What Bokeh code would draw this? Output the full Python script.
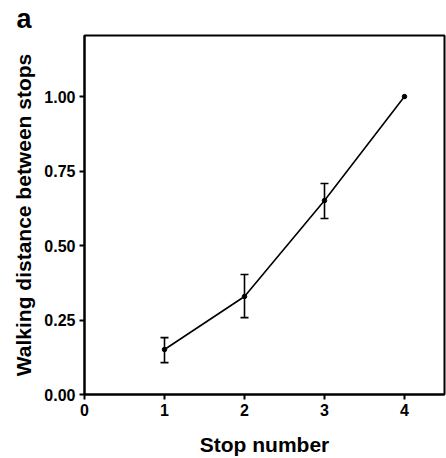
from bokeh.plotting import figure
from bokeh.models import ColumnDataSource, Whisker, TeeHead, FixedTicker, Range1d
from bokeh.embed import file_html
from bokeh.resources import INLINE

NAN = float("nan")
stops = [1, 2, 3, 4]
distance = [0.151, 0.329, 0.651, 1.0]
err_upper = [0.191, 0.403, 0.708, NAN]
err_lower = [0.107, 0.258, 0.591, NAN]
x_ticks = [0, 1, 2, 3, 4]
y_ticks = [0.0, 0.25, 0.5, 0.75, 1.0]
y_tick_labels = {0.0: "0.00", 0.25: "0.25", 0.5: "0.50", 0.75: "0.75", 1.0: "1.00"}

FONT = "Liberation Sans"

p = figure(width=446, height=458, output_backend="svg", toolbar_location=None,
           x_range=Range1d(0, 4.5), y_range=Range1d(0, 1.205),
           min_border_left=84, min_border_right=2, min_border_top=35, min_border_bottom=64,
           title="a")

p.title.text_font = FONT
p.title.text_font_size = "27px"
p.title.text_font_style = "bold"
p.title.text_color = "black"
p.title.align = "left"
p.title.offset = -68
p.title.standoff = 3

p.grid.visible = False
p.outline_line_color = "black"
p.outline_line_width = 2
p.background_fill_color = "white"
p.border_fill_color = "white"

src = ColumnDataSource(dict(x=stops, y=distance))
err_src = ColumnDataSource(dict(x=stops[:3], upper=err_upper[:3], lower=err_lower[:3]))
p.line("x", "y", source=src, line_color="black", line_width=1.6)
p.scatter("x", "y", source=src, size=4.5, color="black")
p.add_layout(Whisker(base="x", upper="upper", lower="lower", source=err_src,
                     line_color="black", line_width=1.6,
                     upper_head=TeeHead(size=8, line_color="black", line_width=1.6),
                     lower_head=TeeHead(size=8, line_color="black", line_width=1.6)))

for ax in (p.xaxis, p.yaxis):
    ax.axis_line_color = "black"
    ax.axis_line_width = 2
    ax.major_tick_line_color = "black"
    ax.major_tick_line_width = 2
    ax.major_tick_out = 5
    ax.major_tick_in = 0
    ax.minor_tick_line_color = None
    ax.major_label_text_font = FONT
    ax.major_label_text_font_style = "bold"
    ax.major_label_text_font_size = "16px"
    ax.major_label_text_color = "black"
    ax.axis_label_text_font = FONT
    ax.axis_label_text_font_style = "bold"
    ax.axis_label_text_font_size = "21px"
    ax.axis_label_text_color = "black"

p.xaxis.ticker = FixedTicker(ticks=x_ticks)
p.yaxis.ticker = FixedTicker(ticks=y_ticks)
p.yaxis.major_label_overrides = y_tick_labels
p.xaxis.axis_label = "Stop number"
p.yaxis.axis_label = "Walking distance between stops"
p.xaxis.major_label_standoff = 4
p.yaxis.major_label_standoff = 4
p.xaxis.axis_label_standoff = 14
p.yaxis.axis_label_standoff = 6

open("out.html", "w").write(file_html(p, INLINE))
